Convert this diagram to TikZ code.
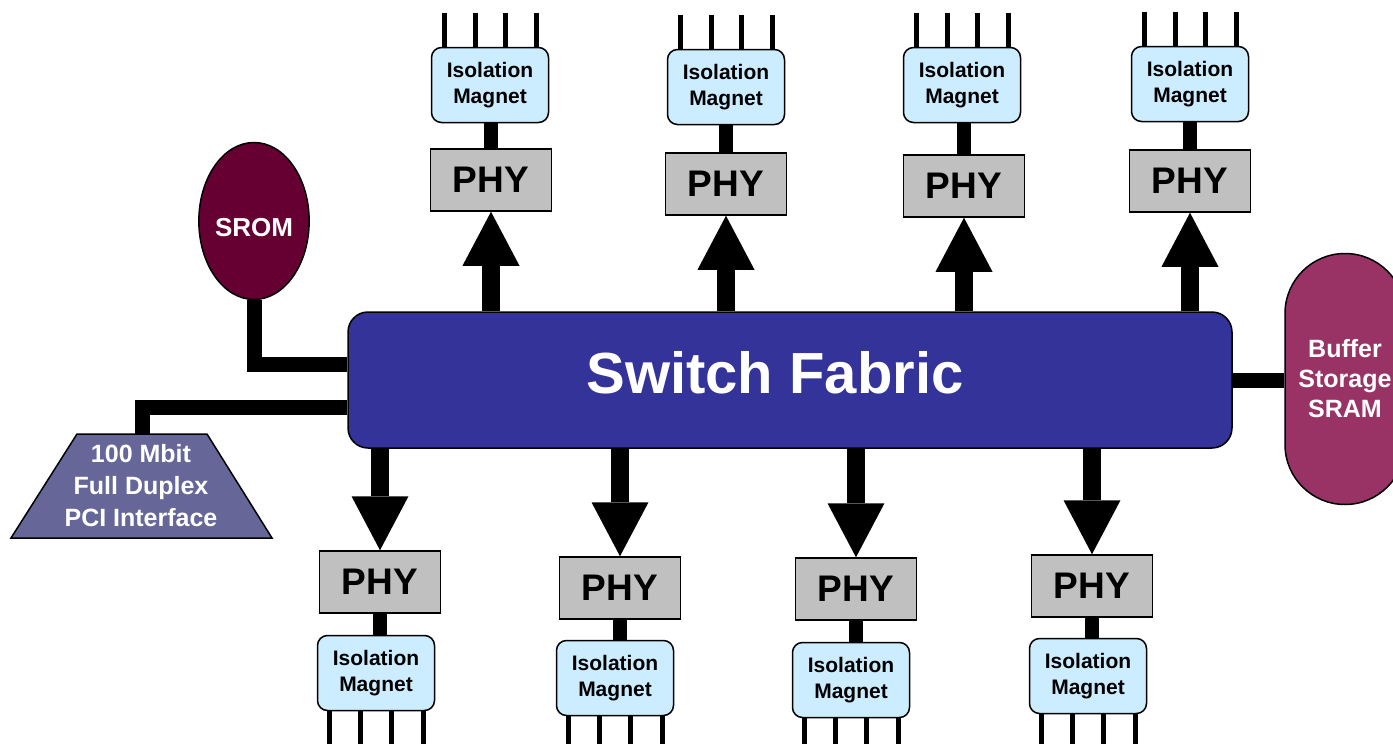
\documentclass[tikz,border=0pt]{standalone}
\usepackage{fontspec}
\setmainfont{Liberation Sans}
\usetikzlibrary{arrows.meta,calc,shapes.geometric}
\definecolor{fabric}{HTML}{333399}
\definecolor{phygray}{HTML}{C0C0C0}
\definecolor{magblue}{HTML}{CCECFF}
\definecolor{romred}{HTML}{660033}
\definecolor{ramred}{HTML}{993366}
\definecolor{pcicol}{HTML}{666699}
\tikzset{every node/.style={font=\bfseries},
  box/.style={draw,line width=1.5pt},
  phy/.style={box,fill=phygray,minimum width=121pt,minimum height=62pt,font=\fontsize{37}{40}\selectfont\bfseries},
  magnet/.style={box,fill=magblue,rounded corners=10pt,minimum width=117pt,minimum height=75pt,align=center,font=\fontsize{21}{26}\selectfont\bfseries},
  bus/.style={line width=15pt},
  tie/.style={line width=14pt},
  pin/.style={line width=5pt},
  link/.style={line width=18pt,-{Triangle[length=54pt,width=57pt,line width=0pt]}}}
\newcommand{\wt}[1]{\fontsize{#1}{1.22\dimexpr#1pt\relax}\selectfont\bfseries}

\begin{document}
\begin{tikzpicture}[x=1pt,y=-1pt]
\useasboundingbox (0,0) rectangle (1393,744);\clip (0,0) rectangle (1393,744);
\node[box,fill=fabric,rounded corners=20pt,minimum width=884pt,minimum height=136pt] (sf) at (790,380) {};
\node[text=white,font=\fontsize{58}{64}\selectfont\bfseries] (sftext) at (775,373) {Switch Fabric};
\node[box,ellipse,fill=romred,minimum width=106pt,minimum height=157pt,inner sep=0pt,text=white,font=\wt{26}] (srom) at (254,221) {\raisebox{-15.5pt}[0pt][0pt]{SROM}};
\draw[bus] (srom.south) |- ($(sf.west)+(0,-16)$);
\draw[box,fill=pcicol] (11,538) -- (77,434) -- (207,434) -- (272,538) -- cycle;
\coordinate (pcitop) at (142,434);
\node[text=white,align=center,font=\fontsize{25}{32}\selectfont\bfseries] (pci) at (141,486) {100 Mbit\\Full Duplex\\PCI Interface};
\draw[bus] (pcitop) |- ($(sf.west)+(0,27)$);
\node[box,fill=ramred,rounded corners=60pt,minimum width=120pt,minimum height=251pt,inner sep=0pt,text=white,align=center,font=\fontsize{25}{30}\selectfont\bfseries] (sram) at (1345,379) {Buffer\\Storage\\SRAM};
\draw[bus] (sf.east) -- (sram.west |- sf.east);
\foreach \i/\x/\yp/\xm/\ym in {1/491/180/490/85,2/726/184/726/87,3/964/186/962/85,4/1190/181/1190/84}{
  \node[phy] (p\i) at (\x,\yp) {PHY};\node[magnet] (m\i) at (\xm,\ym) {Isolation\\Magnet};
  \draw[tie] (m\i.south -| p\i) -- (p\i.north);
  \draw[link] (sf.north -| p\i) -- (p\i.south);
  \foreach \d in {-46,-15,15,46} \draw[pin] ([xshift=\d pt]m\i.north) -- ++(0,-34);
}
\foreach \i/\x/\yp/\xm/\ym in {5/380/582/376/673,6/620/588/615/678,7/856/589/851/680,8/1092/586/1088/676}{
  \node[phy] (p\i) at (\x,\yp) {PHY};\node[magnet] (m\i) at (\xm,\ym) {Isolation\\Magnet};
  \draw[tie] (p\i.south) -- (p\i.south |- m\i.north);
  \draw[link] (sf.south -| p\i) -- (p\i.north);
  \foreach \d in {-47,-16,15,47} \draw[pin] ([xshift=\d pt]m\i.south) -- ++(0,40);
}
\end{tikzpicture}
\end{document}
